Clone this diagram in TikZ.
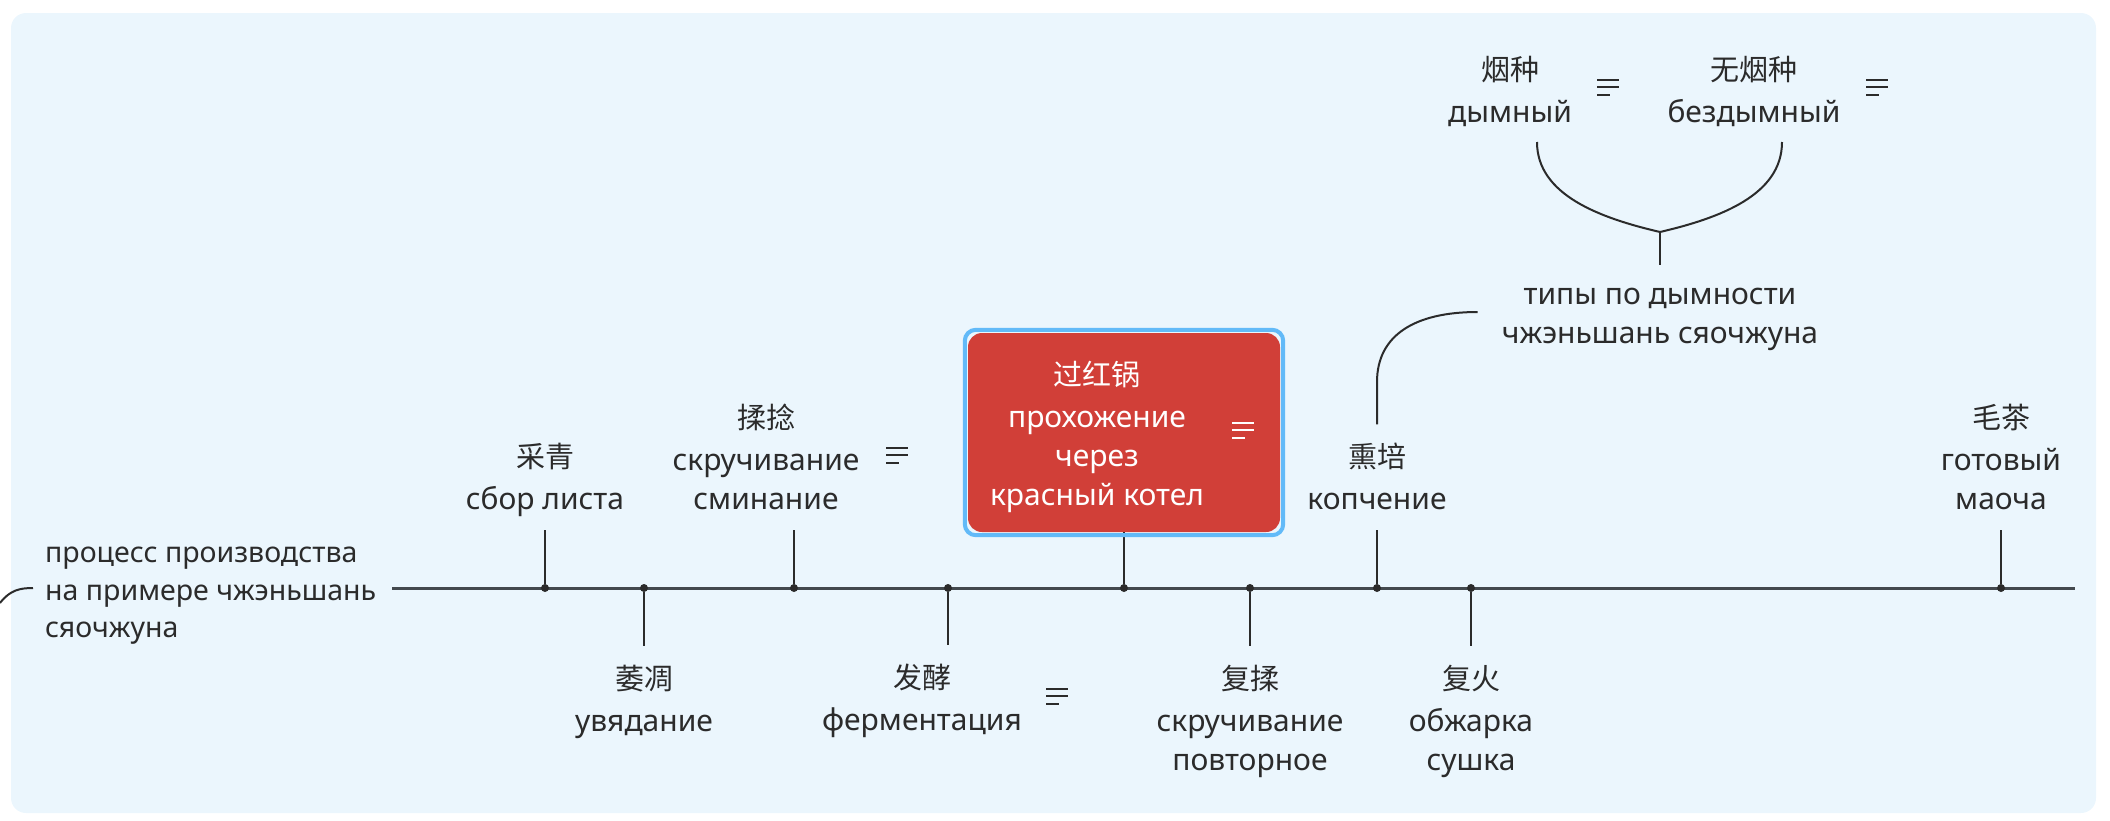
\documentclass[tikz,border=0pt]{standalone}
\usepackage{fontspec}
\setmainfont{Noto Sans}
\newfontfamily\cjk{Noto Sans CJK SC}
\newcommand\zh[1]{{\cjk\fontsize{29}{39}\selectfont#1}}

\definecolor{canvas}{HTML}{EBF6FD}
\definecolor{ink}{HTML}{2B2B2B}
\definecolor{axisgray}{HTML}{43494E}
\definecolor{potred}{HTML}{D13F38}
\definecolor{selblue}{HTML}{62BAF8}

\tikzset{
  topic/.style={align=center, text=ink, inner xsep=0pt, inner ysep=0pt,
    font=\fontsize{30}{39}\selectfont,
    execute at begin node=\strut, execute at end node=\strut},
  uptopic/.style={topic, anchor=south, inner ysep=8.5pt},
  downtopic/.style={topic, anchor=north, inner ysep=19pt},
  axis/.style={draw=axisgray, line width=3pt},
  tick/.style={draw=ink, line width=2pt},
  branch/.style={draw=ink, line width=2pt},
  dot/.style={circle, fill=ink, inner sep=0pt, minimum size=8pt},
  note/.pic={\draw[line width=2pt] (0,-7.5) -- (22,-7.5) (0,0) -- (22,0) (0,7.5) -- (13,7.5);},
}

\begin{document}
\begin{tikzpicture}[x=1pt, y=-1pt]
  \useasboundingbox (0,0) rectangle (2110,820);
  % canvas
  \fill[canvas, rounded corners=15pt] (11,13) rectangle (2096,813);

  % root and timeline
  \node[topic, align=left, anchor=west, font=\fontsize{28.5}{37.5}\selectfont] (root) at (45,598) {процесс производства\\на примере чжэньшань\\сяочжуна};
  \coordinate (parent) at (0,603);
  \coordinate (rootin) at (33,588);
  \draw[branch] (parent) .. controls (10,590) and (20,588) .. (rootin);
  \coordinate (axisstart) at (392,588);
  \coordinate (axisend) at (2075,588);
  \draw[axis] (axisstart) -- (axisend);

  \foreach \name/\x in {d1/545, d2/644, d3/794, d4/948, d5/1124, d6/1250, d7/1377, d8/1471, d9/2001}
    \node[dot] (\name) at (\x,588) {};

  % steps above the line
  \node[uptopic] (caiqing) at (545,530) {\zh{采青}\\[3pt]сбор листа};
  \node[uptopic] (rounian) at (766,530) {\zh{揉捻}\\[3pt]скручивание\\сминание};
  \pic[ink] at (886,455) {note};
  \node[uptopic] (xunpei) at (1377,530) {\zh{熏培}\\[3pt]копчение};
  \node[uptopic] (maocha) at (2001,530) {\zh{毛茶}\\[3pt]готовый\\маоча};

  % steps below the line
  \node[downtopic] (weidiao) at (644,646) {\zh{萎凋}\\[3pt]увядание};
  \node[downtopic] (fajiao) at (922,645) {\zh{发酵}\\[3pt]ферментация};
  \pic[ink] at (1046,696) {note};
  \node[downtopic] (furou) at (1250,646) {\zh{复揉}\\[3pt]скручивание\\повторное};
  \node[downtopic] (fuhuo) at (1471,646) {\zh{复火}\\[3pt]обжарка\\сушка};

  \draw[tick] (d1) -- (d1 |- caiqing.south);
  \draw[tick] (d2) -- (d2 |- weidiao.north);
  \draw[tick] (d3) -- (d3 |- rounian.south);
  \draw[tick] (d4) -- (d4 |- fajiao.north);
  \draw[tick] (d6) -- (d6 |- furou.north);
  \draw[tick] (d7) -- (d7 |- xunpei.south);
  \draw[tick] (d8) -- (d8 |- fuhuo.north);
  \draw[tick] (d9) -- (d9 |- maocha.south);

  % selected step
  \node[fill=potred, rounded corners=14pt, minimum width=312pt, minimum height=199pt] (hongguo) at (1124,432.5) {};
  \draw[tick] (d5) -- (hongguo.south);
  \draw[selblue, line width=4pt, rounded corners=11pt] ([shift={(-3,-3)}]hongguo.north west) rectangle ([shift={(3,3)}]hongguo.south east);
  \node[topic, text=white] (hongguotext) at (1097,439) {\zh{过红锅}\\[3pt]прохожение\\через\\красный котел};
  \pic[white] at (1232,430) {note};

  % smoke types
  \node[topic] (yanzhong) at (1510,95) {\zh{烟种}\\[3pt]дымный};
  \pic[ink] at (1597,87) {note};
  \node[topic] (wuyanzhong) at (1754,95) {\zh{无烟种}\\[3pt]бездымный};
  \pic[ink] at (1866,87) {note};
  \node[topic] (tipy) at (1660,321.5) {типы по дымности\\чжэньшань сяочжуна};
  \coordinate (yzfoot) at (1537,142);
  \coordinate (wyfoot) at (1782,142);
  \coordinate (fork) at (1660,232);
  \draw[branch] (yzfoot) .. controls (1537,195) and (1600,218) .. (fork);
  \draw[branch] (wyfoot) .. controls (1782,195) and (1720,218) .. (fork);
  \draw[branch] (fork) -- ([yshift=23pt]tipy.north);
  \draw[branch] ([yshift=10pt]xunpei.north) -- (1377,382) .. controls (1377,335) and (1415,312) .. ([xshift=-24pt,yshift=9.5pt]tipy.west);
\end{tikzpicture}
\end{document}
